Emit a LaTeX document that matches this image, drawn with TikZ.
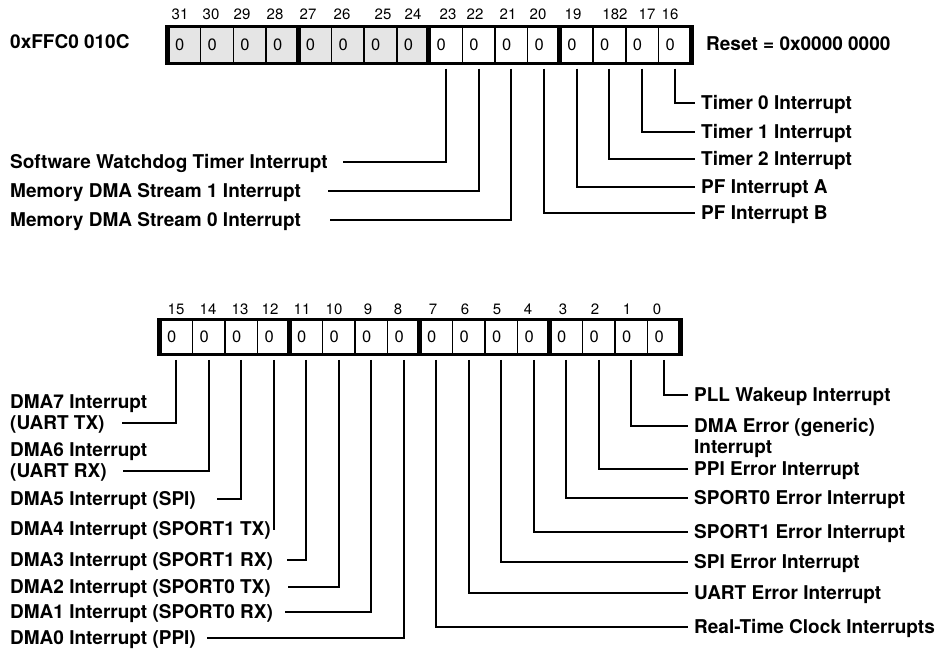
\documentclass[tikz,border=0pt]{standalone}
\usepackage{fontspec}
\setmainfont{TeX Gyre Heros}
\begin{document}
\begin{tikzpicture}[x=1pt,y=-1pt,
  lbl/.style={font=\fontsize{19}{22}\selectfont\bfseries, inner ysep=0pt, inner xsep=0pt, text height=13.6pt, text depth=0pt, anchor=west},
  rlbl/.style={lbl, inner xsep=6pt},
  bitnum/.style={font=\fontsize{15}{18}\selectfont, inner sep=0pt},
  cellbox/.style={draw, line width=1.5pt, minimum height=36pt, inner xsep=7pt, inner ysep=0pt, text width=#1, align=left, font=\fontsize{16.5}{18}\selectfont},
  conn/.style={line width=2pt},
  regedge/.style={line width=2.5pt},
  nib/.style={line width=5pt}
]
\useasboundingbox (0,0) rectangle (948,650);

% ---------- top register ----------
\node[lbl] (addr) at (10,41.5) {0xFFC0 010C};
\foreach \i in {0,...,15}{
  \pgfmathtruncatemacro{\b}{31-\i}
  \ifnum\b>23 \def\fc{black!10}\else\def\fc{white}\fi
  \node[cellbox=18.7pt, fill=\fc] (c\b) at ({168+32.7*\i+16.35},45) {0};
}
\draw[regedge] (c31.north west) -- (c16.north east);
\draw[regedge] (c31.south west) -- (c16.south east);
\foreach \n in {31,27,23,19} \draw[nib] ([yshift=1pt]c\n.north west) -- ([yshift=-1pt]c\n.south west);
\draw[nib] ([yshift=1pt]c16.north east) -- ([yshift=-1pt]c16.south east);
\node[lbl] (reset) at (706,44) {Reset = 0x0000 0000};

\foreach \x/\t in {180/31,211/30,242/29,275/28,308/27,342/26,383/25,413/24,448/23,475/22,508/21,538/20,573/19,615/182,647/17,670/16}
  \node[bitnum] (tn\x) at (\x,14) {\t};

% top-left labels
\node[lbl] (l23) at (10,162) {Software Watchdog Timer Interrupt};
\node[lbl] (l22) at (10,191) {Memory DMA Stream 1 Interrupt};
\node[lbl] (l21) at (10,220) {Memory DMA Stream 0 Interrupt};
\foreach \b/\y/\ex in {23/162/343, 22/191/328, 21/220/330}{
  \coordinate (e\b) at (\ex,\y);
  \draw[conn] ([yshift=-5pt]c\b.south) |- (e\b);
}

% top-right labels
\node[rlbl] (l16) at (695,103) {Timer 0 Interrupt};
\node[rlbl] (l17) at (695,132) {Timer 1 Interrupt};
\node[rlbl] (l18) at (695,159) {Timer 2 Interrupt};
\node[rlbl] (l19) at (695,187) {PF Interrupt A};
\node[rlbl] (l20) at (695,213) {PF Interrupt B};
\foreach \b in {16,17,18,19,20}
  \draw[conn] ([yshift=-5pt]c\b.south) |- (l\b.west);

% ---------- bottom register ----------
\foreach \i in {0,...,15}{
  \pgfmathtruncatemacro{\b}{15-\i}
  \node[cellbox=18.5pt, minimum height=34pt, fill=white] (d\b) at ({160+32.5*\i+16.25},337) {0};
}
\draw[regedge] (d15.north west) -- (d0.north east);
\draw[regedge] (d15.south west) -- (d0.south east);
\foreach \n in {15,11,7,3} \draw[nib] ([yshift=1pt]d\n.north west) -- ([yshift=-1pt]d\n.south west);
\draw[nib] ([yshift=1pt]d0.north east) -- ([yshift=-1pt]d0.south east);

\foreach \x/\t in {176/15,208/14,240/13,270/12,302/11,334/10,368/9,398/8,433/7,465/6,497/5,528/4,563/3,595/2,627/1,657/0}
  \node[bitnum] (bn\t) at (\x,309) {\t};

% bottom-left labels
\node[lbl] (l15a) at (10,402) {DMA7 Interrupt};
\node[lbl] (l15) at (10,423) {(UART TX)};
\node[lbl] (l14a) at (10,450) {DMA6 Interrupt};
\node[lbl] (l14) at (10,471) {(UART RX)};
\node[lbl] (l13) at (10,499) {DMA5 Interrupt (SPI)};
\node[lbl] (l12) at (10,529) {DMA4 Interrupt (SPORT1 TX)};
\node[lbl] (l11) at (10,560) {DMA3 Interrupt (SPORT1 RX)};
\node[lbl] (l10) at (10,587) {DMA2 Interrupt (SPORT0 TX)};
\node[lbl] (l9) at (10,612) {DMA1 Interrupt (SPORT0 RX)};
\node[lbl] (l8) at (10,638) {DMA0 Interrupt (PPI)};
\foreach \b/\y/\ex in {15/423/122, 14/471/123, 13/499/217, 12/529/273, 11/560/287, 10/587/288, 9/612/285, 8/638/207}{
  \coordinate (e\b) at (\ex,\y);
  \draw[conn] ([yshift=-5pt]d\b.south) |- (e\b);
}

% bottom-right labels
\node[rlbl] (r0) at (688,395) {PLL Wakeup Interrupt};
\node[rlbl] (r1) at (688,426) {DMA Error (generic)};
\node[rlbl] (r1b) at (688,447) {Interrupt};
\node[rlbl] (r2) at (688,469) {PPI Error Interrupt};
\node[rlbl] (r3) at (688,498) {SPORT0 Error Interrupt};
\node[rlbl] (r4) at (688,532) {SPORT1 Error Interrupt};
\node[rlbl] (r5) at (688,562) {SPI Error Interrupt};
\node[rlbl] (r6) at (688,593) {UART Error Interrupt};
\node[rlbl] (r7) at (688,627) {Real-Time Clock Interrupts};
\foreach \b in {0,...,7}
  \draw[conn] ([yshift=-5pt]d\b.south) |- (r\b.west);
\end{tikzpicture}
\end{document}
